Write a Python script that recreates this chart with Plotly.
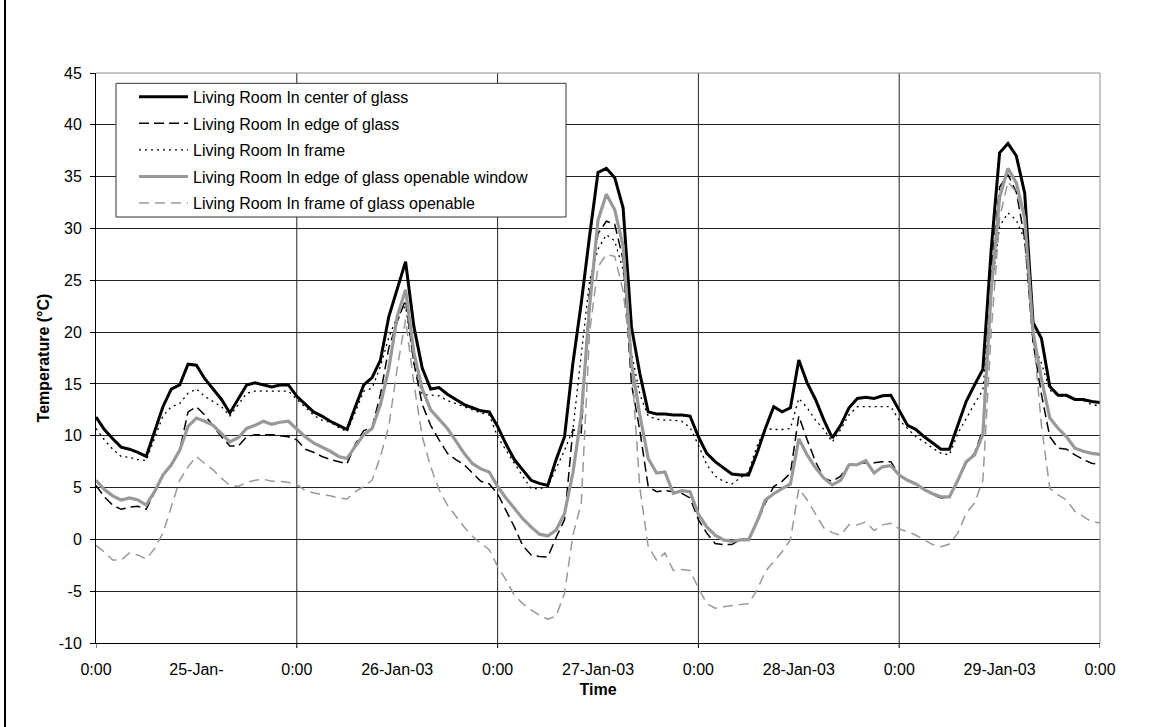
import plotly.graph_objects as go

# ---------------- data (hourly, 25-Jan-03 0:00 .. 30-Jan-03 0:00) ----------------
hours = list(range(121))

center_glass = [
    11.8, 10.6, 9.7, 8.9, 8.7, 8.4, 8.0, 10.4, 12.8, 14.5,
    14.9, 16.9, 16.8, 15.5, 14.5, 13.5, 12.2, 13.5, 14.9, 15.1,
    14.9, 14.7, 14.9, 14.9, 13.8, 13.0, 12.3, 11.9, 11.4, 11.0,
    10.6, 12.8, 14.9, 15.6, 17.3, 21.5, 24.2, 26.8, 20.5, 16.5,
    14.5, 14.65, 14.0, 13.5, 13.0, 12.7, 12.4, 12.3, 10.9, 9.2,
    7.7, 6.7, 5.7, 5.4, 5.2, 7.7, 9.9, 17.0, 22.8, 29.3,
    35.4, 35.8, 34.9, 32.0, 20.5, 16.0, 12.3, 12.1, 12.1, 12.0,
    12.0, 11.9, 9.9, 8.3, 7.5, 6.9, 6.3, 6.2, 6.2, 8.3,
    10.7, 12.8, 12.3, 12.7, 17.3, 15.1, 13.5, 11.5, 9.8, 11.0,
    12.7, 13.6, 13.7, 13.6, 13.85, 13.9, 12.5, 11.0, 10.6, 9.9,
    9.3, 8.7, 8.7, 10.9, 13.3, 14.9, 16.4, 28.0, 37.3, 38.2,
    37.0, 33.4, 20.9, 19.4, 14.75, 13.9, 13.9, 13.5, 13.5, 13.3,
    13.2,
]

edge_glass = [
    5.2, 4.1, 3.3, 2.9, 3.1, 3.2, 2.9, 4.6, 6.2, 7.1,
    8.6, 12.3, 12.8, 12.0, 10.9, 9.9, 9.0, 9.0, 9.9, 10.1,
    10.1, 10.1, 10.0, 9.9, 9.6, 8.7, 8.4, 8.0, 7.7, 7.5,
    7.3, 9.2, 10.5, 10.8, 14.0, 18.5, 21.0, 23.1, 17.0, 13.0,
    11.0, 9.6, 8.3, 7.7, 7.2, 6.4, 5.6, 5.35, 4.4, 2.8,
    1.2, -0.6, -1.5, -1.65, -1.7, 0.2, 1.9, 10.6, 10.3, 24.0,
    29.5, 30.7, 30.4, 27.0, 15.0, 10.5, 5.1, 4.6, 4.7, 4.6,
    4.45, 4.0, 1.9, 0.6, -0.4, -0.5, -0.5, 0.0, 0.0, 1.6,
    3.5, 5.1, 5.6, 6.4, 11.9, 9.6, 7.5, 5.9, 5.6, 6.1,
    7.2, 7.35, 7.35, 7.4, 7.5, 7.5, 6.2, 5.7, 5.35, 4.8,
    4.3, 4.0, 4.1, 5.7, 7.35, 8.3, 10.6, 26.0, 34.0, 35.2,
    33.5, 29.0, 19.0, 14.0, 9.9, 8.8, 8.7, 8.15, 7.7, 7.35,
    7.2,
]

frame = [
    10.7, 9.6, 8.7, 8.0, 7.9, 7.7, 7.6, 9.8, 11.9, 12.8,
    13.1, 14.1, 14.5, 13.8, 13.3, 12.8, 11.9, 13.0, 14.1, 14.3,
    14.3, 14.3, 14.3, 14.3, 13.5, 12.7, 12.0, 11.5, 11.3, 10.8,
    10.4, 12.3, 14.3, 14.6, 16.7, 19.5, 21.5, 22.5, 17.0, 14.0,
    13.9, 13.85, 13.4, 13.1, 12.8, 12.5, 12.2, 12.0, 9.9, 8.6,
    7.3, 6.1, 4.9, 4.9, 5.1, 6.9, 8.6, 10.6, 18.0, 25.0,
    28.0, 29.4, 28.8, 26.0, 18.0, 14.0, 11.9, 11.6, 11.5, 11.5,
    11.4, 10.8, 9.1, 7.2, 6.1, 5.6, 5.35, 5.9, 6.5, 9.0,
    10.7, 10.6, 10.6, 10.7, 13.6, 12.7, 11.5, 10.6, 9.4, 10.6,
    12.0, 12.8, 12.8, 12.8, 12.8, 12.8, 11.5, 10.7, 9.9, 9.4,
    8.8, 8.3, 8.15, 10.2, 11.7, 13.1, 14.4, 24.0, 30.2, 31.5,
    30.8, 28.9, 19.0, 17.0, 14.4, 13.85, 13.8, 13.5, 13.4, 13.0,
    12.9,
]

edge_glass_openable = [
    5.7, 4.8, 4.2, 3.8, 4.0, 3.8, 3.3, 4.6, 6.2, 7.2,
    8.6, 10.9, 11.7, 11.4, 11.0, 10.2, 9.4, 9.8, 10.7, 11.0,
    11.4, 11.1, 11.3, 11.4, 10.6, 9.9, 9.3, 8.9, 8.5, 8.0,
    7.8, 9.0, 10.1, 10.7, 13.0, 16.5, 21.5, 24.1, 18.0, 14.5,
    12.5, 11.6, 10.7, 9.5, 8.3, 7.3, 6.8, 6.5, 5.1, 4.0,
    3.0, 2.0, 1.2, 0.5, 0.33, 0.9, 2.5, 6.4, 12.0, 22.5,
    30.8, 33.3, 31.8, 28.3, 17.0, 12.0, 7.8, 6.4, 6.5, 4.45,
    4.7, 4.6, 2.4, 1.2, 0.4, -0.05, -0.2, -0.05, -0.05, 1.7,
    3.8, 4.4, 4.9, 5.35, 9.7, 8.15, 6.9, 5.9, 5.25, 5.7,
    7.2, 7.2, 7.6, 6.4, 7.0, 7.1, 6.2, 5.7, 5.35, 4.8,
    4.4, 4.1, 4.1, 5.7, 7.5, 8.15, 10.1, 24.0, 33.0, 35.8,
    34.4, 31.0, 20.0, 15.5, 11.7, 10.7, 9.9, 8.8, 8.5, 8.3,
    8.2,
]

frame_openable = [
    -0.6, -1.2, -2.0, -2.0, -1.3, -1.5, -1.9, -0.9, 0.6, 3.2,
    5.7, 7.0, 8.0, 7.3, 6.7, 5.9, 5.2, 5.1, 5.5, 5.7,
    5.8, 5.6, 5.6, 5.5, 5.3, 4.7, 4.5, 4.3, 4.2, 4.0,
    3.9, 4.6, 5.1, 5.7, 8.0, 10.9, 16.5, 21.2, 15.0, 9.9,
    7.0, 4.8, 3.3, 2.2, 1.2, 0.3, -0.4, -1.0, -2.6, -3.9,
    -5.4, -6.2, -6.8, -7.3, -7.7, -7.4, -5.2, 0.4, 3.5, 20.0,
    26.3, 27.5, 27.3, 24.0, 17.0, 5.0, -0.7, -2.0, -1.3, -3.0,
    -2.9, -3.0, -4.7, -6.2, -6.65, -6.5, -6.4, -6.3, -6.2, -4.9,
    -3.1, -2.15, -1.2, -0.05, 4.9, 3.8, 2.5, 1.1, 0.65, 0.4,
    1.4, 1.4, 1.7, 0.85, 1.4, 1.55, 1.0, 0.75, 0.4, -0.05,
    -0.5, -0.7, -0.45, 0.6, 2.5, 3.5, 5.7, 20.0, 31.0, 34.5,
    33.5, 31.0, 20.0, 11.0, 4.9, 4.3, 3.8, 2.7, 2.2, 1.7,
    1.6,
]

series_names = [
    "Living Room In center of glass",
    "Living Room In edge of glass",
    "Living Room In frame",
    "Living Room In edge of glass openable window",
    "Living Room In frame of glass openable",
]

x_tick_vals = [0, 12, 24, 36, 48, 60, 72, 84, 96, 108, 120]
x_tick_text = ["0:00", "25-Jan-", "0:00", "26-Jan-03", "0:00", "27-Jan-03",
               "0:00", "28-Jan-03", "0:00", "29-Jan-03", "0:00"]
day_vals = [0, 24, 48, 72, 96, 120]
y_tick_vals = [-10, -5, 0, 5, 10, 15, 20, 25, 30, 35, 40, 45]
y_tick_text = ["-10", "-5", "0", "5", "10", "15", "20", "25", "30", "35", "40", "45"]

# ---------------- styling ----------------
FONT = "Arial, Liberation Sans, sans-serif"
line_styles = [
    dict(color="#000000", width=3),
    dict(color="#000000", width=1.5, dash="10px,5px"),
    dict(color="#000000", width=1.3, dash="2px,4px"),
    dict(color="#999999", width=3.2),
    dict(color="#999999", width=1.5, dash="10px,6px"),
]
values = [center_glass, edge_glass, frame, edge_glass_openable, frame_openable]

fig = go.Figure()
for i, (name, vals, ls) in enumerate(zip(series_names, values, line_styles)):
    fig.add_trace(go.Scatter(x=hours, y=vals, name=name, mode="lines",
                             line=ls, legendgroup=f"g{i}"))

W, H = 1156, 727
L, R, T, B = 96, 56, 73, 84
pw, ph = W - L - R, H - T - B


def px_x(p):
    return (p - L) / pw


def px_y(p):
    return (H - B - p) / ph


shapes = []
# vertical day gridlines
for d in day_vals[1:-1]:
    shapes.append(dict(type="line", xref="x", yref="paper", x0=d, x1=d, y0=0, y1=1,
                       line=dict(color="#222222", width=1), layer="below"))
# day tick marks below the x axis
for d in day_vals:
    shapes.append(dict(type="line", xref="x", yref="paper", x0=d, x1=d, y0=0,
                       y1=-5 / ph, line=dict(color="#000000", width=1)))
# grey top / right border of the plot area
shapes.append(dict(type="line", xref="paper", yref="paper", x0=0, x1=1, y0=1, y1=1,
                   line=dict(color="#8c8c8c", width=1), layer="above"))
shapes.append(dict(type="line", xref="paper", yref="paper", x0=1, x1=1, y0=0, y1=1,
                   line=dict(color="#8c8c8c", width=1), layer="above"))
# legend box
shapes.append(dict(type="rect", xref="paper", yref="paper",
                   x0=px_x(116), x1=px_x(566), y0=px_y(217), y1=px_y(83.3),
                   fillcolor="#ffffff", line=dict(color="#333333", width=1), layer="above"))
# outer chart border (left edge)
shapes.append(dict(type="line", xref="paper", yref="paper", x0=px_x(5), x1=px_x(5),
                   y0=px_y(0), y1=px_y(H), line=dict(color="#000000", width=2)))

fig.update_layout(
    width=W, height=H,
    margin=dict(l=L, r=R, t=T, b=B, pad=0),
    paper_bgcolor="#ffffff", plot_bgcolor="#ffffff",
    font=dict(family=FONT, size=16, color="#000000"),
    showlegend=True,
    legend=dict(x=px_x(134), y=px_y(79.8), xanchor="left", yanchor="top",
                bgcolor="rgba(0,0,0,0)", borderwidth=0, itemwidth=49,
                traceorder="grouped", tracegroupgap=2.8,
                font=dict(family=FONT, size=16, color="#000000")),
    shapes=shapes,
    xaxis=dict(range=[0, 120], tickmode="array", tickvals=x_tick_vals, ticktext=x_tick_text,
               ticks="", showgrid=False, zeroline=False, showline=True,
               linecolor="#000000", linewidth=1, ticklabelstandoff=12,
               tickfont=dict(family=FONT, size=16),
               title=dict(text="Time", font=dict(family=FONT, size=16, weight="bold"),
                          standoff=6)),
    yaxis=dict(range=[-10, 45], tickmode="array", tickvals=y_tick_vals, ticktext=y_tick_text,
               ticks="outside", ticklen=5, tickcolor="#000000", tickwidth=1,
               showgrid=True, gridcolor="#222222", gridwidth=1, zeroline=False,
               showline=True, linecolor="#000000", linewidth=1, ticklabelstandoff=5,
               tickfont=dict(family=FONT, size=16),
               title=dict(text="Temperature (°C)",
                          font=dict(family=FONT, size=16, weight="bold"), standoff=5)),
)

fig.write_html("out.html",
               config={"displayModeBar": False},
               post_script="document.body.style.margin='0';document.body.style.overflow='hidden';")
